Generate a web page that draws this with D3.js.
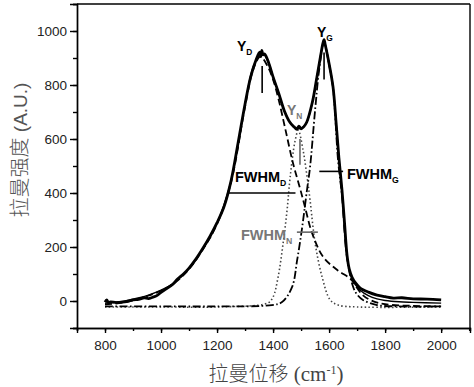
<!DOCTYPE html>
<html>
<head>
<meta charset="utf-8">
<script src="https://cdn.jsdelivr.net/npm/d3@7"></script>
<style>
body{margin:0;background:#fff;}
.axis path,.axis line{stroke:#000;stroke-width:1.4;}
.axis text{font-family:Arial,"Liberation Sans",sans-serif;font-size:13.5px;fill:#222;}
.ann{font-family:Arial,"Liberation Sans",sans-serif;font-weight:bold;}
</style>
</head>
<body>
<div id="chart"></div>
<script>
// raman spectrum
var measured = [[800,-4],[806,4],[812,-6],[820,-3],[840,-6],[870,-3],[900,4],[920,6],[940,12],[955,9],[970,14],[985,20],[1000,32],[1020,46],[1040,60],[1060,82],[1080,100],[1100,122],[1125,156],[1150,196],[1175,240],[1200,290],[1225,350],[1250,445],[1275,585],[1300,730],[1320,830],[1340,895],[1352,922],[1356,905],[1360,928],[1364,912],[1370,915],[1385,880],[1400,830],[1420,770],[1440,705],[1460,662],[1475,645],[1485,636],[1492,648],[1500,638],[1510,646],[1520,662],[1540,735],[1555,820],[1570,910],[1578,955],[1582,968],[1586,950],[1598,890],[1614,793],[1625,660],[1635,530],[1646,411],[1655,290],[1664,170],[1672,118],[1682,88],[1695,66],[1711,48],[1740,33],[1771,22],[1800,16],[1829,11],[1860,12],[1900,8],[1950,7],[2000,4]];

var fitTotal = [[800,-8],[850,-3],[900,7],[950,20],[1000,40],[1050,70],[1100,120],[1150,194],[1200,288],[1250,445],[1300,728],[1330,870],[1360,918],[1385,880],[1400,830],[1420,770],[1440,705],[1460,662],[1480,640],[1500,640],[1520,662],[1540,735],[1560,850],[1582,962],[1598,890],[1614,790],[1635,525],[1646,405],[1664,165],[1682,80],[1711,40],[1740,20],[1771,8],[1800,2],[1850,-3],[1900,-5],[2000,-8]];

var peakD = [[800,-12],[850,-8],[900,2],[950,18],[1000,38],[1050,68],[1100,118],[1150,192],[1200,285],[1250,440],[1300,720],[1330,860],[1355,905],[1380,870],[1400,820],[1420,745],[1443,640],[1471,511],[1496,418],[1514,348],[1539,252],[1579,163],[1629,115],[1668,89],[1680,78],[1686,70],[1700,48],[1720,22],[1750,2],[1800,-12],[1900,-18],[2000,-20]];

var peakG = [[800,-20],[1000,-20],[1200,-20],[1396,-15],[1432,-4],[1468,52],[1486,152],[1504,274],[1521,411],[1532,496],[1550,707],[1565,860],[1582,960],[1598,885],[1614,790],[1632,520],[1646,390],[1664,160],[1686,52],[1700,24],[1721,4],[1771,-15],[1850,-20],[2000,-20]];

var peakN = [[800,-22],[1000,-22],[1200,-22],[1382,-7],[1400,15],[1418,89],[1436,215],[1450,337],[1461,459],[1478,590],[1490,632],[1507,559],[1520,470],[1532,374],[1550,215],[1575,89],[1604,4],[1632,-15],[1700,-22],[2000,-22]];

var xTicks = [800,1000,1200,1400,1600,1800,2000];
var yTicks = [0,200,400,600,800,1000];

var margin = {top: 4, right: 4, bottom: 59, left: 77},
	width = 474 - margin.left - margin.right,
	height = 387 - margin.top - margin.bottom;

var svg = d3.select("#chart").append("svg")
	.attr("width", 474)
	.attr("height", 387);

var g = svg.append("g")
	.attr("transform", "translate(" + margin.left + "," + margin.top + ")");

var x = d3.scaleLinear().domain([700, 2103]).range([0, width]);
var y = d3.scaleLinear().domain([-100, 1100]).range([height, 0]);

var line = d3.line()
	.x(function(d){return x(d[0]);})
	.y(function(d){return y(d[1]);})
	.curve(d3.curveCatmullRom);

// components first, spectrum on top
g.append("path").datum(peakN)
	.attr("d", line)
	.style("fill","none").style("stroke","#444")
	.style("stroke-width",1.6).style("stroke-dasharray","1.5,2.4");

g.append("path").datum(peakD)
	.attr("d", line)
	.style("fill","none").style("stroke","#000")
	.style("stroke-width",1.8).style("stroke-dasharray","7,3.5");

g.append("path").datum(peakG)
	.attr("d", line)
	.style("fill","none").style("stroke","#000")
	.style("stroke-width",1.8).style("stroke-dasharray","8,2.5,1.6,2.5");

g.append("path").datum(fitTotal)
	.attr("d", line)
	.style("fill","none").style("stroke","#000")
	.style("stroke-width",1.4);

g.append("path").datum(measured)
	.attr("d", line)
	.style("fill","none").style("stroke","#000")
	.style("stroke-width",2.8);

// frame
g.append("line").attr("x1",0).attr("x2",width).attr("y1",0).attr("y2",0)
	.style("stroke","#000").style("stroke-width",1.4);
g.append("line").attr("x1",width).attr("x2",width).attr("y1",0).attr("y2",height)
	.style("stroke","#000").style("stroke-width",1.4);

// axes
g.append("g").attr("class","axis")
	.attr("transform","translate(0,"+height+")")
	.call(d3.axisBottom(x).tickValues(d3.range(700,2101,100)).tickSize(3).tickFormat(""));
g.append("g").attr("class","axis")
	.attr("transform","translate(0,"+height+")")
	.call(d3.axisBottom(x).tickValues(xTicks).tickSize(5).tickPadding(7).tickFormat(d3.format("d")));

g.append("g").attr("class","axis")
	.call(d3.axisLeft(y).tickValues(d3.range(-100,1101,100)).tickSize(4).tickFormat(""));
g.append("g").attr("class","axis")
	.call(d3.axisLeft(y).tickValues(yTicks).tickSize(7).tickPadding(3).tickFormat(d3.format("d")));

g.selectAll(".axis .domain").style("stroke-width",1.4);

// axis titles
var yt = svg.append("text")
	.attr("transform","translate(27,150) rotate(-90)")
	.attr("text-anchor","middle")
	.style("fill","#555");
yt.append("tspan").text("拉曼强度")
	.style("font-family","'Noto Sans CJK SC'").style("font-size","20px").style("font-weight","300");
yt.append("tspan").text(" (A.U.)")
	.style("font-family","Arial,'Liberation Sans'").style("font-size","19px");

var xt = svg.append("text")
	.attr("x",276).attr("y",381)
	.attr("text-anchor","middle")
	.style("fill","#444");
xt.append("tspan").text("拉曼位移")
	.style("font-family","'Noto Sans CJK SC'").style("font-size","20px").style("font-weight","300");
xt.append("tspan").text(" (cm")
	.style("font-family","'Liberation Serif'").style("font-size","21px");
xt.append("tspan").text("-1").attr("dy",-7)
	.style("font-family","'Liberation Serif'").style("font-size","12px");
xt.append("tspan").text(")").attr("dy",7)
	.style("font-family","'Liberation Serif'").style("font-size","21px");

// annotations: peak heights and widths
function label(px, py, main, sub, color, size){
	var t = svg.append("text").attr("class","ann")
		.attr("x",px).attr("y",py).style("fill",color);
	t.append("tspan").text(main).style("font-size",size+"px");
	t.append("tspan").text(sub).attr("dy",4).style("font-size",(size*0.6)+"px");
}
function seg(x1, y1, x2, y2, color){
	g.append("line")
		.attr("x1",x(x1)).attr("y1",y(y1)).attr("x2",x(x2)).attr("y2",y(y2))
		.style("stroke",color).style("stroke-width",1.6);
}

seg(1361, 870, 1361, 770, "#000");
seg(1582, 920, 1582, 820, "#000");
seg(1496, 600, 1496, 505, "#666");
seg(1240, 400, 1480, 400, "#000");
seg(1565, 480, 1650, 480, "#000");
seg(1485, 255, 1560, 255, "#666");

label(237, 51, "Y", "D", "#000", 14);
label(317, 37, "Y", "G", "#000", 14);
label(287, 115, "Y", "N", "#777", 14);
label(235, 182, "FWHM", "D", "#000", 14.5);
label(347, 179, "FWHM", "G", "#000", 14.5);
label(241, 240, "FWHM", "N", "#777", 14.5);
</script>
</body>
</html>
